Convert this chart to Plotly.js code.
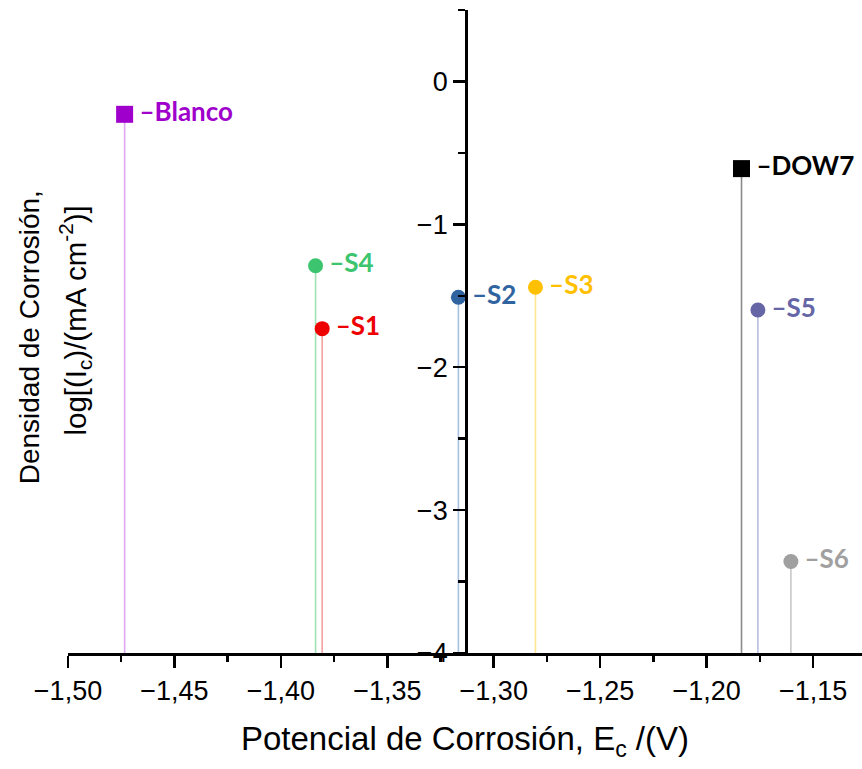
<!DOCTYPE html>
<html>
<head>
<meta charset="utf-8">
<script src="https://cdn.plot.ly/plotly-3.0.1.min.js"></script>
<style>html,body{margin:0;padding:0;background:#fff;}</style>
</head>
<body>
<div id="chart" style="width:862px;height:769px;"></div>
<script>
// Data
const samples = ['Blanco', 'S4', 'S1', 'S2', 'S3', 'DOW7', 'S5', 'S6'];
const Ecorr = [-1.4734, -1.3837, -1.3806, -1.3166, -1.2804, -1.1836, -1.1759, -1.1604];
const logIcorr = [-0.23, -1.29, -1.73, -1.51, -1.44, -0.61, -1.60, -3.36];
const symbols = ['square', 'circle', 'circle', 'circle', 'circle', 'square', 'circle', 'circle'];
const markerColors = ['#A000CC', '#3CC46E', '#EE0000', '#2F64A0', '#FFC000', '#000000', '#6666A6', '#A0A0A0'];
const stemColors = ['#DDA8F0', '#9EE2B4', '#F4A0A0', '#A8C0E0', '#FFE690', '#8A8A8A', '#B8BEE0', '#C8C8C8'];
const yTitleLines = ['Densidad de Corrosión,', 'log[(I<sub>c</sub>)/(mA cm<sup>-2</sup>)]'];

const xRange = [-1.50, -1.127];
const yRange = [-4, 0.5];
const yAxisCross = -1.313;

const traces = [];
samples.forEach((name, i) => {
  traces.push({
    x: [Ecorr[i], Ecorr[i]],
    y: [yRange[0], logIcorr[i]],
    mode: 'lines',
    line: {color: stemColors[i], width: 1.6},
    hoverinfo: 'skip',
    showlegend: false
  });
});
samples.forEach((name, i) => {
  traces.push({
    x: [Ecorr[i]],
    y: [logIcorr[i]],
    mode: 'markers+text',
    marker: {symbol: symbols[i], size: symbols[i] === 'square' ? 17 : 15, color: markerColors[i]},
    text: ['\u2009\u2013' + name],
    textposition: 'middle right',
    textfont: {family: 'Lato, "Open Sans", sans-serif', size: 26, color: markerColors[i], weight: 'bold'},
    showlegend: false,
    cliponaxis: false
  });
});

const axisFont = {family: '"Liberation Sans", Arial, sans-serif', size: 27, color: '#000'};
const titleFont = {family: '"Liberation Sans", Arial, sans-serif', size: 28, color: '#000'};
const titleFont2 = {family: '"Liberation Sans", Arial, sans-serif', size: 29.5, color: '#000'};

const layout = {
  width: 862, height: 769,
  margin: {l: 68, r: 0, t: 10, b: 116},
  paper_bgcolor: '#fff', plot_bgcolor: '#fff',
  separators: ', ',
  showlegend: false,
  xaxis: {
    range: xRange,
    showline: true, linecolor: '#000', linewidth: 2.5,
    ticks: 'outside', ticklen: 12, tickwidth: 2.5, tickcolor: '#000',
    tick0: -1.5, dtick: 0.05, tickformat: '.2f',
    tickfont: axisFont,
    showgrid: false, zeroline: false,
    minor: {dtick: 0.025, ticks: 'outside', ticklen: 6, tickwidth: 2.5, tickcolor: '#000', showgrid: false},
    title: {text: 'Potencial de Corrosión, E<sub>c</sub> /(V)', font: {family: '"Liberation Sans", Arial, sans-serif', size: 33, color: '#000'}, standoff: 22}
  },
  yaxis: {
    range: yRange,
    anchor: 'free',
    position: (yAxisCross - xRange[0]) / (xRange[1] - xRange[0]),
    showline: true, linecolor: '#000', linewidth: 2.5,
    ticks: 'outside', ticklen: 12, tickwidth: 2.5, tickcolor: '#000',
    tick0: 0, dtick: 1,
    tickfont: axisFont,
    showgrid: false, zeroline: false,
    minor: {dtick: 0.5, ticks: 'outside', ticklen: 7, tickwidth: 2.5, tickcolor: '#000', showgrid: false}
  },
  annotations: [
    {
      xref: 'paper', yref: 'paper', x: 0, y: 0.491, xanchor: 'center', yanchor: 'middle',
      xshift: -39, textangle: -90, showarrow: false,
      text: yTitleLines[0], font: titleFont
    },
    {
      xref: 'paper', yref: 'paper', x: 0, y: 0.517, xanchor: 'center', yanchor: 'middle',
      xshift: 7, textangle: -90, showarrow: false,
      text: yTitleLines[1], font: titleFont2
    }
  ]
};

Plotly.newPlot('chart', traces, layout, {displayModeBar: false, staticPlot: true});
</script>
</body>
</html>
